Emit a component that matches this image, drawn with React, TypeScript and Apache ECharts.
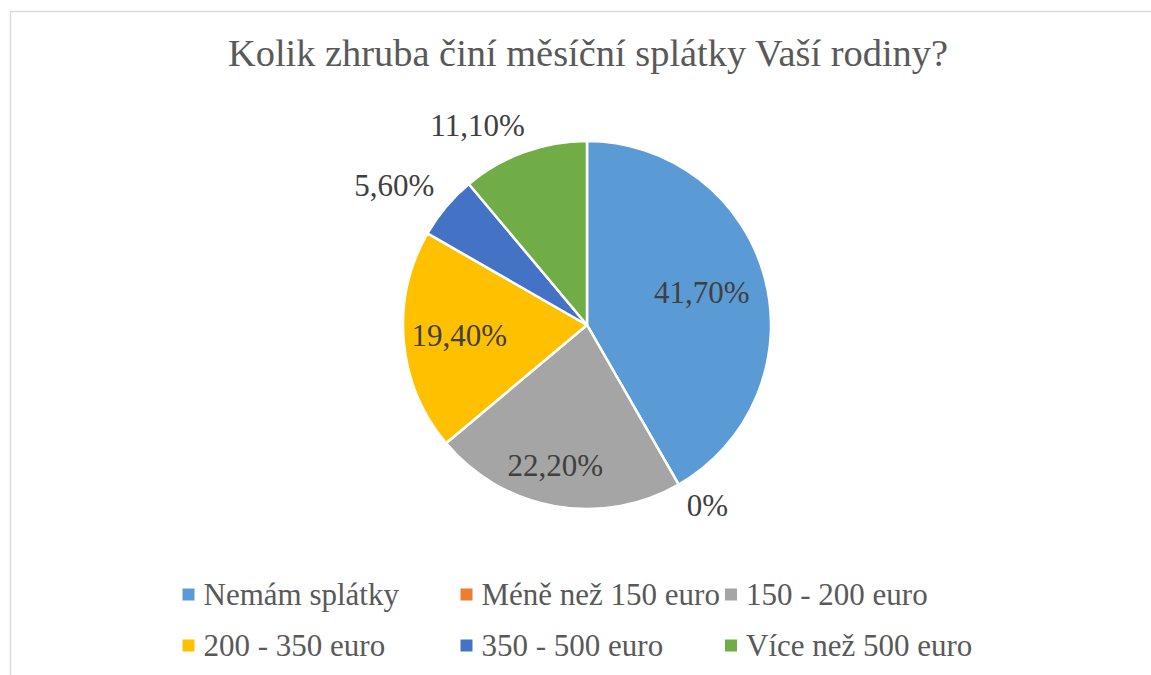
import React, { useEffect, useRef } from "react";
import * as echarts from "echarts";

const titleText = "Kolik zhruba činí měsíční splátky Vaší rodiny?";
const categories = [
  "Nemám splátky",
  "Méně než 150 euro",
  "150 - 200 euro",
  "200 - 350 euro",
  "350 - 500 euro",
  "Více než 500 euro",
];
const values = [41.7, 0, 22.2, 19.4, 5.6, 11.1];
const labelTexts = ["41,70%", "0%", "22,20%", "19,40%", "5,60%", "11,10%"];
const colors = ["#5B9BD5", "#ED7D31", "#A5A5A5", "#FFC000", "#4472C4", "#70AD47"];
// label offsets from the default inside position (Excel best-fit placement)
const labelOffsets: [number, number][] = [
  [23, -8],
  [73, 98],
  [-15, 47],
  [-33, 2],
  [-120, -78],
  [-77, -110],
];
const legendColumns = [
  [categories[0], categories[3]],
  [categories[1], categories[4]],
  [categories[2], categories[5]],
];
const legendLefts = [180.5, 458.5, 723];

const FONT = "Liberation Serif";

export default function App() {
  const ref = useRef<HTMLDivElement>(null);
  useEffect(() => {
    if (!ref.current) return;
    const chart = echarts.init(ref.current, undefined, { renderer: "svg" });
    chart.setOption({
      animation: false,
      color: colors,
      textStyle: { fontFamily: FONT },
      title: {
        text: titleText,
        left: 228,
        top: 34,
        padding: 0,
        textStyle: { fontFamily: FONT, fontSize: 38.4, fontWeight: "normal", color: "#595959" },
      },
      graphic: [
        {
          type: "rect",
          shape: { x: 10.5, y: 11.5, width: 1200, height: 700 },
          style: { fill: "none", stroke: "#d9d9d9", lineWidth: 1.5 },
          silent: true,
        },
      ],
      legend: legendColumns.map((col, i) => ({
        data: col,
        orient: "vertical",
        left: legendLefts[i],
        top: 579,
        itemGap: 20,
        itemWidth: 14,
        itemHeight: 14,
        icon: "rect",
        padding: 0,
        selectedMode: false,
        textStyle: {
          fontFamily: FONT,
          fontSize: 31,
          color: "#595959",
          padding: [0, 0, 0, 3],
        },
      })),
      series: [
        {
          type: "pie",
          center: [587, 325],
          radius: [0, 184],
          startAngle: 90,
          clockwise: true,
          avoidLabelOverlap: false,
          itemStyle: { borderColor: "#ffffff", borderWidth: 2.5 },
          labelLine: { show: false },
          data: categories.map((name, i) => ({
            name,
            value: values[i],
            label: {
              show: true,
              position: "inside",
              offset: labelOffsets[i],
              formatter: () => labelTexts[i],
              fontFamily: FONT,
              fontSize: 31,
              color: "#404040",
            },
          })),
        },
      ],
    });
    return () => chart.dispose();
  }, []);
  return (
    <div
      ref={ref}
      style={{ position: "fixed", left: 0, top: 0, width: 1151, height: 675, background: "#fff" }}
    />
  );
}
